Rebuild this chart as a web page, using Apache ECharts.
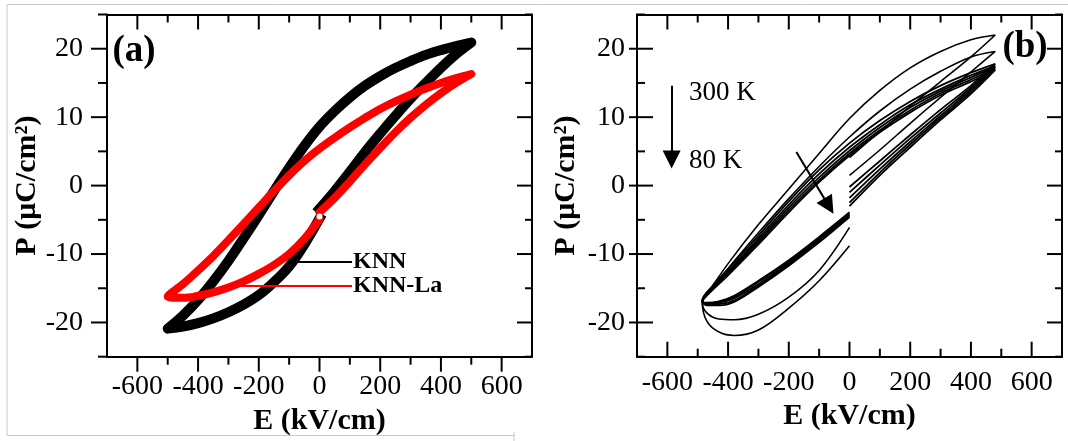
<!DOCTYPE html>
<html>
<head>
<meta charset="utf-8">
<script src="https://cdn.jsdelivr.net/npm/echarts@6/dist/echarts.min.js"></script>
<style>
  html, body { margin: 0; padding: 0; background: #fff; }
  #chart { width: 1068px; height: 441px; }
</style>
</head>
<body>
<div id="chart"></div>
<script>
// ---- panel (a): field sweep shared by both loops (kV/cm) ----
var sweepA = [0, 50, 100, 150, 200, 250, 300, 350, 400, 450, 500,
  450, 400, 350, 300, 250, 200, 150, 100, 50, 0, -50, -100, -150, -200, -250, -300, -350, -400, -450, -500,
  -450, -400, -350, -300, -250, -200, -150, -100, -50, 0];
// polarization, uC/cm2
var knnP = [-3.4, -0.8, 2.0, 4.9, 7.6, 10.2, 12.7, 15.0, 17.2, 19.2, 20.9,
  20.4, 19.8, 19.1, 18.2, 17.2, 16.0, 14.6, 12.9, 10.9, 8.6, 5.8, 2.6, -0.8, -4.3, -7.7, -11.0, -14.0, -16.7, -19.0, -20.9,
  -20.6, -20.1, -19.4, -18.5, -17.4, -16.0, -14.1, -11.8, -8.6, -4.8];
var knnLaP = [-3.9, -1.8, 0.6, 3.1, 5.5, 7.8, 9.9, 11.8, 13.5, 15.0, 16.3,
  15.7, 15.0, 14.2, 13.3, 12.3, 11.2, 9.9, 8.5, 7.0, 5.4, 3.6, 1.5, -0.8, -3.2, -5.6, -8.0, -10.3, -12.4, -14.4, -16.2,
  -16.4, -16.1, -15.6, -14.9, -14.0, -12.9, -11.6, -10.0, -7.8, -4.9];

// ---- panel (b): loops from 300 K (T1) down to 80 K (T7) ----
var sweepB = [0, 100, 200, 300, 400, 480,
  400, 300, 200, 100, 0, -100, -200, -300, -400, -450, -485,
  -470, -430, -380, -300, -200, -100, 0];
var loopT1 = [4.1, 7.9, 11.6, 15.2, 18.8, 22.0,
  21.3, 19.6, 17.2, 13.9, 9.8, 4.7, -0.5, -5.7, -11.4, -14.6, -17.0,
  -19.8, -21.4, -21.9, -21.1, -17.9, -13.9, -8.8];
var loopT2 = [1.5, 5.2, 9.1, 12.9, 16.6, 19.6,
  18.8, 16.7, 14.1, 10.9, 7.1, 2.8, -1.9, -6.9, -12.1, -14.8, -17.0,
  -18.6, -19.5, -19.6, -18.8, -16.3, -12.4, -6.1];
var loopT3 = [-0.2, 3.6, 7.4, 11.1, 14.6, 17.8,
  16.5, 14.6, 12.3, 9.5, 6.2, 2.3, -2.3, -7.3, -12.2, -14.6, -16.8,
  -17.5, -17.5, -17.0, -14.8, -11.7, -8.3, -4.6];
var loopT4 = [-1.0, 3.0, 6.9, 10.6, 14.3, 17.5,
  16.1, 14.1, 11.8, 8.9, 5.6, 1.7, -2.8, -7.7, -12.5, -14.8, -16.8,
  -17.4, -17.3, -16.8, -14.6, -11.5, -8.1, -4.5];
var loopT5 = [-1.8, 2.4, 6.4, 10.2, 14.0, 17.3,
  15.8, 13.8, 11.4, 8.5, 5.1, 1.2, -3.2, -8.0, -12.7, -15.0, -16.9,
  -17.3, -17.1, -16.5, -14.4, -11.3, -7.9, -4.3];
var loopT6 = [-2.5, 1.9, 6.0, 9.9, 13.7, 17.1,
  15.5, 13.5, 11.0, 8.1, 4.7, 0.8, -3.6, -8.3, -12.9, -15.1, -16.9,
  -17.2, -17.0, -16.3, -14.1, -11.1, -7.7, -4.1];
var loopT7 = [-3.0, 1.5, 5.6, 9.6, 13.4, 16.9,
  15.2, 13.2, 10.7, 7.8, 4.4, 0.5, -3.9, -8.6, -13.1, -15.2, -17.0,
  -17.1, -16.9, -16.1, -13.9, -10.9, -7.5, -3.9];

// ---- axis ranges and ticks ----
var xRange = [-700, 700];
var yRange = [-25, 25];
var xLabelled = [-600, 600, 200];   // labelled range and step
var yLabelled = [-20, 20, 10];
var xMajor = [-600, -400, -200, 0, 200, 400, 600];
var xMinor = [-500, -300, -100, 100, 300, 500];
var yMajor = [-20, -10, 0, 10, 20];
var yMinor = [-25, -15, -5, 5, 15, 25];

var serif = '"Liberation Serif", "Times New Roman", serif';

function pairs(xs, ys) {
  return xs.map(function (x, i) { return [x, ys[i]]; });
}

// plain frame side, no ticks
function frame(position, range) {
  return {
    type: 'value', position: position, min: range[0], max: range[1],
    axisLine: { show: true, onZero: false, lineStyle: { color: '#000', width: 2 } },
    axisTick: { show: false }, axisLabel: { show: false }, splitLine: { show: false }
  };
}

// label carrier on a narrower grid so labels start on a round value
function labeller(position, t, margin, opts) {
  var a = {
    type: 'value', position: position, min: t[0], max: t[1], interval: t[2],
    axisLine: { show: false, onZero: false },
    axisTick: { show: false }, minorTick: { show: false },
    axisLabel: { show: true, margin: margin, color: '#000', fontFamily: serif, fontSize: 28 },
    splitLine: { show: false }
  };
  return Object.assign(a, opts || {});
}

function hidden() {
  return { type: 'value', show: false, min: 0, max: 1 };
}

var nameStyle = { fontFamily: serif, fontSize: 30, fontWeight: 'bold', color: '#000' };

// one x and one y axis per grid
var grids = [], xAxes = [], yAxes = [];
function addGrid(rect, xa, ya) {
  var i = grids.length;
  grids.push(rect);
  xa.gridIndex = i;
  ya.gridIndex = i;
  xAxes.push(xa);
  yAxes.push(ya);
  return i;
}

var boxTop = 14.5, boxBottom = 84.3;
var xPad = 425 * 100 / 1400;      // px between -700 and -600
var yPad = 342.2 * 5 / 50;        // px between 25 and 20
function rects(left, right) {
  return {
    box: { left: left, right: right, top: boxTop, bottom: boxBottom },
    xt: { left: left + xPad, right: right + xPad, top: boxTop, bottom: boxBottom },
    yt: { left: left, right: right, top: boxTop + yPad, bottom: boxBottom + yPad }
  };
}

// panel (a)
var ra = rects(107, 536);
var gA = addGrid(ra.box, frame('bottom', xRange), frame('left', yRange));
addGrid(ra.box, frame('top', xRange), frame('right', yRange));
addGrid(ra.xt, labeller('bottom', xLabelled, 17, {
  name: 'E (kV/cm)', nameLocation: 'middle', nameGap: 41, nameTextStyle: nameStyle
}), hidden());
addGrid(ra.yt, hidden(), labeller('left', yLabelled, 24, {
  name: 'P (μC/cm²)', nameLocation: 'middle', nameGap: 64, nameRotate: 90, nameTextStyle: nameStyle
}));

// panel (b)
var rb = rects(637, 6);
var gB = addGrid(rb.box, frame('bottom', xRange), frame('left', yRange));
addGrid(rb.box, frame('top', xRange), frame('right', yRange));
addGrid(rb.xt, labeller('bottom', xLabelled, 12, {
  name: 'E (kV/cm)', nameLocation: 'middle', nameGap: 41, nameTextStyle: nameStyle
}), hidden());
addGrid(rb.yt, hidden(), labeller('left', yLabelled, 12, {
  name: 'P (μC/cm²)', nameLocation: 'middle', nameGap: 56, nameRotate: 90, nameTextStyle: nameStyle
}));

function leader(text, y, x0) {
  return {
    silent: true, symbol: 'none', animation: false,
    lineStyle: { width: 2, type: 'solid' },
    label: { show: true, position: 'end', distance: 1, formatter: text, color: '#000',
      fontFamily: serif, fontWeight: 'bold', fontSize: 24 },
    data: [[{ coord: [x0, y] }, { coord: [107, y] }]]
  };
}

var series = [
  {
    name: 'KNN', type: 'line', xAxisIndex: gA, yAxisIndex: gA,
    data: pairs(sweepA, knnP), smooth: 0.35, showSymbol: false,
    lineStyle: { color: '#000', width: 10, cap: 'square', join: 'round' },
    itemStyle: { color: '#000' },
    markLine: leader('KNN', -11.1, -86)
  },
  {
    name: 'KNN-La', type: 'line', xAxisIndex: gA, yAxisIndex: gA,
    data: pairs(sweepA, knnLaP), smooth: 0.35, showSymbol: false,
    lineStyle: { color: '#ff0000', width: 8, cap: 'round', join: 'round' },
    itemStyle: { color: '#ff0000' },
    markLine: leader('KNN-La', -14.6, -294),
    markPoint: {
      silent: true, symbol: 'circle', symbolSize: 6, animation: false,
      itemStyle: { color: '#fff' }, label: { show: false },
      data: [{ coord: [0, -4.5] }]
    }
  }
];
var seriesA = 0;
var seriesB = series.length;

var loopsB = [loopT1, loopT2, loopT3, loopT4, loopT5, loopT6, loopT7];
loopsB.forEach(function (p, i) {
  var s = {
    name: 'T' + (i + 1), type: 'line', xAxisIndex: gB, yAxisIndex: gB,
    data: pairs(sweepB, p), smooth: 0.35, showSymbol: false,
    lineStyle: { color: '#000', width: i < 2 ? 1.6 : 1.8 },
    itemStyle: { color: '#000' }
  };
  if (i === 0) {
    // temperature arrows
    s.markLine = {
      silent: true, animation: false, symbol: ['none', 'triangle'], symbolSize: 18,
      lineStyle: { color: '#000', width: 2, type: 'solid' },
      label: { show: false },
      data: [
        [{ coord: [-586, 14.6] }, { coord: [-586, 3.8] }],
        [{ coord: [-175, 4.9] }, { coord: [-68, -3.0] }]
      ]
    };
  }
  series.push(s);
});

var grey = { stroke: '#c8c8c8', lineWidth: 1 };
var graphics = [
  { type: 'line', silent: true, shape: { x1: 7, y1: 4.5, x2: 1068, y2: 4.5 }, style: grey },
  { type: 'line', silent: true, shape: { x1: 7, y1: 4.5, x2: 7, y2: 435.5 }, style: grey },
  { type: 'line', silent: true, shape: { x1: 7, y1: 435.5, x2: 514, y2: 435.5 }, style: grey },
  { type: 'line', silent: true, shape: { x1: 514, y1: 432, x2: 514, y2: 441 }, style: grey },
  { type: 'text', silent: true, x: 134, y: 51, z: 10,
    style: { text: '(a)', font: 'bold 37px ' + serif, fill: '#000', align: 'center', verticalAlign: 'middle' } },
  { type: 'text', silent: true, x: 1025, y: 47, z: 10,
    style: { text: '(b)', font: 'bold 37px ' + serif, fill: '#000', align: 'center', verticalAlign: 'middle' } },
  { type: 'text', silent: true, x: 689, y: 93,
    style: { text: '300 K', font: '27px ' + serif, fill: '#000', align: 'left', verticalAlign: 'middle' } },
  { type: 'text', silent: true, x: 689, y: 161,
    style: { text: '80 K', font: '27px ' + serif, fill: '#000', align: 'left', verticalAlign: 'middle' } }
];

var chart = echarts.init(document.getElementById('chart'));
chart.setOption({
  animation: false,
  backgroundColor: '#fff',
  grid: grids,
  xAxis: xAxes,
  yAxis: yAxes,
  series: series,
  graphic: graphics
});

// tick marks, placed through each panel's scales (a series of that panel is the finder)
// inLen = length into the plot box, outLen = length outside it
function toPixel(seriesIndex, rect, v) {
  var p = chart.convertToPixel({ seriesIndex: seriesIndex }, v);
  if (p && isFinite(p[0]) && isFinite(p[1])) return p;
  // fallback: same linear mapping as the box grid
  var w = 1068 - rect.left - rect.right, h = 441 - rect.top - rect.bottom;
  return [rect.left + (v[0] - xRange[0]) / (xRange[1] - xRange[0]) * w,
          rect.top + (yRange[1] - v[1]) / (yRange[1] - yRange[0]) * h];
}

var tickEls = [];
function addTicks(si, rect, side, values, inLen, outLen) {
  var lo = toPixel(si, rect, [xRange[0], yRange[0]]);
  var hi = toPixel(si, rect, [xRange[1], yRange[1]]);
  values.forEach(function (v) {
    var s;
    if (side === 'bottom' || side === 'top') {
      var x = toPixel(si, rect, [v, 0])[0];
      s = side === 'bottom'
        ? { x1: x, y1: lo[1] - inLen, x2: x, y2: lo[1] + outLen }
        : { x1: x, y1: hi[1] - outLen, x2: x, y2: hi[1] + inLen };
    } else {
      var y = toPixel(si, rect, [0, v])[1];
      s = side === 'left'
        ? { x1: lo[0] - outLen, y1: y, x2: lo[0] + inLen, y2: y }
        : { x1: hi[0] - inLen, y1: y, x2: hi[0] + outLen, y2: y };
    }
    tickEls.push({ type: 'line', silent: true, z: 20, shape: s,
      style: { stroke: '#000', lineWidth: 2 } });
  });
}

// (a): ticks outward on bottom/left, inward on top/right
addTicks(seriesA, ra.box, 'bottom', xMajor, 0, 15);
addTicks(seriesA, ra.box, 'bottom', xMinor, 0, 8);
addTicks(seriesA, ra.box, 'top', xMajor, 15, 0);
addTicks(seriesA, ra.box, 'top', xMinor, 8, 0);
addTicks(seriesA, ra.box, 'left', yMajor, 0, 16);
addTicks(seriesA, ra.box, 'left', yMinor, 0, 9);
addTicks(seriesA, ra.box, 'right', yMajor, 15, 0);
addTicks(seriesA, ra.box, 'right', yMinor, 7, 0);
// (b): ticks inward, left majors cross the axis
addTicks(seriesB, rb.box, 'bottom', xMajor, 15, 0);
addTicks(seriesB, rb.box, 'bottom', xMinor, 8, 0);
addTicks(seriesB, rb.box, 'top', xMajor, 15, 0);
addTicks(seriesB, rb.box, 'top', xMinor, 8, 0);
addTicks(seriesB, rb.box, 'left', yMajor, 16, 8);
addTicks(seriesB, rb.box, 'left', yMinor, 8, 0);
addTicks(seriesB, rb.box, 'right', yMajor, 15, 0);
addTicks(seriesB, rb.box, 'right', yMinor, 7, 0);

chart.setOption({ graphic: { elements: graphics.concat(tickEls) } });
</script>
</body>
</html>
